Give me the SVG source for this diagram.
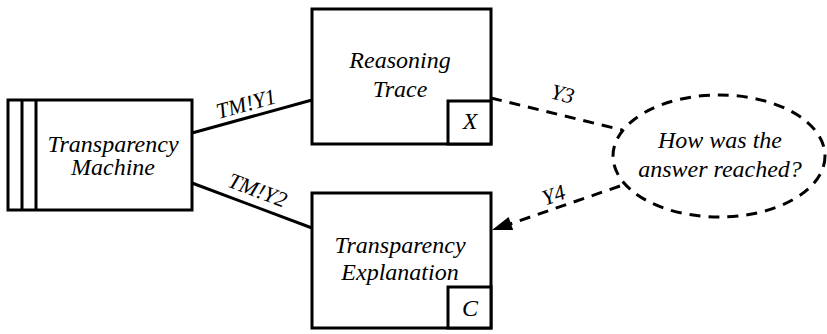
<svg xmlns="http://www.w3.org/2000/svg" width="827" height="334" viewBox="0 0 827 334">
<style>
.box{fill:#fff;stroke:#000;stroke-width:3}
.ln{stroke:#000;stroke-width:3;fill:none}
.dash{stroke:#000;stroke-width:3;fill:none;stroke-dasharray:11 8}
</style>
<g id="connectors" font-family="Liberation Serif, Tinos, DejaVu Serif, Noto Serif, serif" font-style="italic" font-size="22" text-anchor="middle" fill="#000">
<line class="ln" x1="192" y1="133" x2="312" y2="100"/>
<text transform="translate(248,111) rotate(-15.4)">TM!Y1</text>
<line class="ln" x1="192" y1="183" x2="312" y2="228"/>
<text transform="translate(255,197) rotate(20.6)">TM!Y2</text>
<line class="dash" x1="491" y1="98" x2="622" y2="130"/>
<text transform="translate(561,101) rotate(13.6)">Y3</text>
<line class="dash" x1="620" y1="186" x2="510" y2="224"/>
<polygon points="492,230 513.2,230.1 508.6,216.9" fill="#000"/>
<text transform="translate(556,202) rotate(-19)">Y4</text>
</g>
<g id="machine" font-family="Liberation Serif, Tinos, DejaVu Serif, Noto Serif, serif" font-style="italic" font-size="24" text-anchor="middle">
<rect class="box" x="8" y="100" width="184" height="110"/>
<line class="ln" x1="22" y1="100" x2="22" y2="210"/>
<line class="ln" x1="36" y1="100" x2="36" y2="210"/>
<text x="113" y="152">Transparency</text>
<text x="113" y="175">Machine</text>
</g>
<g id="reasoning" font-family="Liberation Serif, Tinos, DejaVu Serif, Noto Serif, serif" font-style="italic" font-size="24" text-anchor="middle">
<rect class="box" x="312" y="9" width="179" height="135"/>
<text x="400" y="68">Reasoning</text>
<text x="400" y="97">Trace</text>
<rect class="box" x="448" y="101" width="43" height="43"/>
<text x="470" y="129">X</text>
</g>
<g id="explanation" font-family="Liberation Serif, Tinos, DejaVu Serif, Noto Serif, serif" font-style="italic" font-size="24" text-anchor="middle">
<rect class="box" x="312" y="193" width="179" height="135"/>
<text x="400" y="253">Transparency</text>
<text x="400" y="280">Explanation</text>
<rect class="box" x="448" y="287" width="43" height="41"/>
<text x="470" y="316">C</text>
</g>
<g id="question" font-family="Liberation Serif, Tinos, DejaVu Serif, Noto Serif, serif" font-style="italic" font-size="24" text-anchor="middle">
<ellipse class="dash" cx="719" cy="156" rx="106" ry="61" fill="#fff"/>
<text x="720" y="148">How was the</text>
<text x="720" y="177">answer reached?</text>
</g>
</svg>
